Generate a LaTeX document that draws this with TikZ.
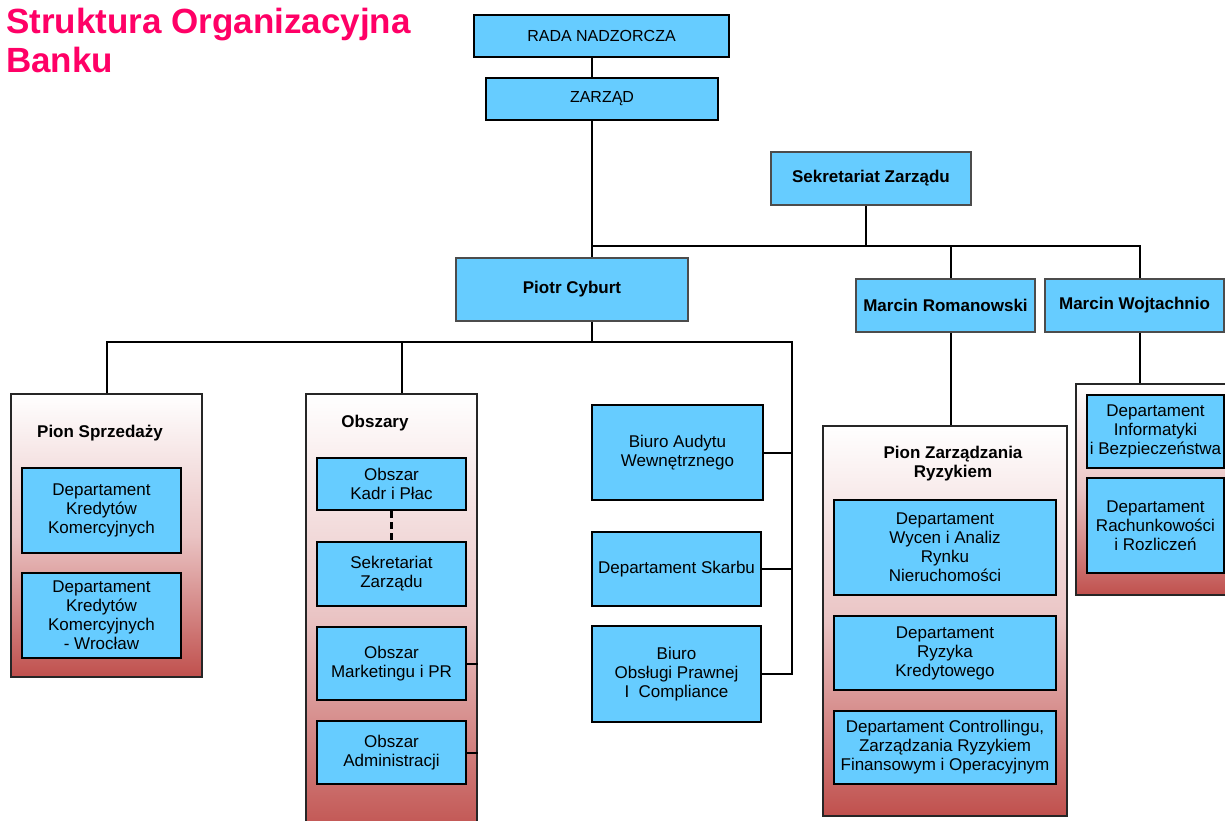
\documentclass[tikz,border=0pt]{standalone}
\usepackage{fontspec}
\setmainfont{Liberation Sans}
\usepackage{tikz}
\definecolor{boxblue}{RGB}{102,204,255}
\definecolor{pionred}{RGB}{192,80,77}
\definecolor{pionpink}{RGB}{234,196,196}
\definecolor{titlepink}{RGB}{255,0,102}
\newcommand{\orgbox}[7]{\node[#1,minimum width=#5pt,minimum height=#6pt] (#2) at (#3,#4) {#7};}

\begin{document}
\begin{tikzpicture}[x=1pt,y=-1pt,
    txt/.style={font=\fontsize{17}{19}\selectfont,align=center,inner sep=0pt,text=black},
    bluebox/.style={txt,draw=black,line width=2.5pt,fill=boxblue},
    headbox/.style={bluebox,font=\fontsize{16}{19}\selectfont},
    topbox/.style={txt,draw=black!70,line width=1.2pt,fill=boxblue,font=\fontsize{17}{19}\selectfont\bfseries},
    pion/.style={draw=black!85,line width=2pt,inner sep=0pt,top color=white,bottom color=pionred,middle color=pionpink},
    pionlabel/.style={txt,font=\fontsize{17}{19}\selectfont\bfseries},
    conn/.style={line width=2pt,black}]
    \useasboundingbox (0,0) rectangle (1225,821);
    \clip (0,0) rectangle (1225,821);

    \node[anchor=north west,inner sep=0pt,align=left,text=titlepink,
        font=\fontsize{35}{39}\selectfont\bfseries] (title) at (6,8) {Struktura Organizacyjna\\Banku};

    \orgbox{headbox}{rada}{601.5}{36}{255}{42}{RADA NADZORCZA}
    \orgbox{headbox}{zarzad}{602}{99}{232}{42}{ZARZĄD}
    \orgbox{topbox}{sekr}{871}{178.5}{200}{53}{Sekretariat Zarządu}
    \orgbox{topbox}{piotr}{572}{289.5}{232}{63}{Piotr Cyburt}
    \orgbox{topbox}{roman}{945.5}{305.5}{179}{53}{Marcin Romanowski}
    \orgbox{topbox}{wojt}{1134.5}{305.5}{179}{53}{Marcin Wojtachnio}

    \orgbox{pion}{pionS}{106.5}{535.5}{191}{283}{}
    \orgbox{pion}{obsz}{391.5}{617}{171}{446}{}
    \orgbox{pion}{pionR}{945}{621}{244}{390}{}
    \orgbox{pion}{pionW}{1158}{489.5}{164}{211}{}

    \node[pionlabel] (pionSlab) at (100,433) {Pion Sprzedaży};
    \node[pionlabel] (obszlab) at (375,423) {Obszary};
    \node[pionlabel] (pionRlab) at (953,464) {Pion Zarządzania\\Ryzykiem};

    \orgbox{bluebox}{kred}{101.5}{510.5}{159}{85}{Departament\\Kredytów\\Komercyjnych}
    \orgbox{bluebox}{kredw}{101.5}{615.5}{159}{85}{Departament\\Kredytów\\Komercyjnych\\- Wrocław}

    \orgbox{bluebox}{kadr}{391.5}{484}{149}{52}{Obszar\\Kadr i Płac}
    \orgbox{bluebox}{sekrob}{391.5}{574}{149}{64}{Sekretariat\\Zarządu}
    \orgbox{bluebox}{mark}{391.5}{663.5}{149}{73}{Obszar\\Marketingu i PR}
    \orgbox{bluebox}{admin}{391.5}{752.5}{149}{63}{Obszar\\Administracji}

    \orgbox{bluebox}{audyt}{677.5}{452.5}{171}{95}{Biuro Audytu\\Wewnętrznego}
    \orgbox{bluebox}{skarb}{676.5}{569}{169}{74}{Departament Skarbu}
    \orgbox{bluebox}{prawo}{676.5}{674}{169}{96}{Biuro\\Obsługi Prawnej\\I~~Compliance}

    \orgbox{bluebox}{wycen}{945}{547.5}{222}{95}{Departament\\Wycen i Analiz\\Rynku\\Nieruchomości}
    \orgbox{bluebox}{ryzyko}{945}{653}{222}{74}{Departament\\Ryzyka\\Kredytowego}
    \orgbox{bluebox}{control}{945}{747.5}{222}{73}{Departament Controllingu,\\Zarządzania Ryzykiem\\Finansowym i Operacyjnym}

    \orgbox{bluebox}{info}{1155.5}{431.5}{137}{73}{Departament\\Informatyki\\i Bezpieczeństwa}
    \orgbox{bluebox}{rach}{1155.5}{525.5}{137}{95}{Departament\\Rachunkowości\\i Rozliczeń}

    \coordinate (trunk) at (592,246);
    \coordinate (sekrdrop) at (866,246);
    \coordinate (romdrop) at (951,246);
    \coordinate (wojdrop) at (1140,246);
    \coordinate (split) at (592,342);
    \coordinate (sdrop) at (107,342);
    \coordinate (odrop) at (402,342);
    \coordinate (bdrop) at (792,342);

    \draw[conn] (rada.south -| trunk) -- (zarzad.north -| trunk);
    \draw[conn] (zarzad.south -| trunk) -- (piotr.north -| trunk);
    \draw[conn] (sekr.south -| sekrdrop) -- (sekrdrop);
    \draw[conn] (trunk) -- (wojdrop) -- (wojt.north -| wojdrop);
    \draw[conn] (romdrop) -- (roman.north -| romdrop);
    \draw[conn] (roman.south -| romdrop) -- (pionR.north -| romdrop);
    \draw[conn] (wojt.south -| wojdrop) -- (pionW.north -| wojdrop);

    \draw[conn] (piotr.south -| split) -- (split);
    \draw[conn] (pionS.north -| sdrop) -- (sdrop) -- (bdrop) -- (bdrop |- prawo.east) -- (prawo.east);
    \draw[conn] (odrop) -- (obsz.north -| odrop);
    \draw[conn] (audyt.east) -- (audyt.east -| bdrop);
    \draw[conn] (skarb.east) -- (skarb.east -| bdrop);

    \draw[conn,line width=2.5pt,dash pattern=on 7pt off 4pt] (kadr.south) -- (sekrob.north);
    \draw[conn] (mark.east) -- (mark.east -| obsz.east);
    \draw[conn] (admin.east) -- (admin.east -| obsz.east);
\end{tikzpicture}
\end{document}
